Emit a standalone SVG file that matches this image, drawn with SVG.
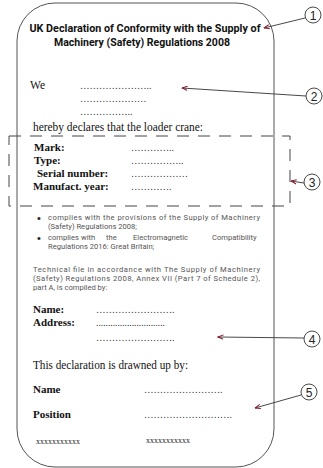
<svg xmlns="http://www.w3.org/2000/svg" width="323" height="468" viewBox="0 0 323 468">
<defs>
<style>
.frame{fill:none;stroke:#555;stroke-width:1}
.dash{fill:none;stroke:#444;stroke-width:1;stroke-dasharray:12 9}
.title{font-family:Roboto,"Liberation Sans",sans-serif;font-weight:bold;font-size:10.5px;fill:#111}
.serif{font-family:"Liberation Serif",serif;font-size:11.5px;fill:#111}
.bserif{font-family:"Liberation Serif",serif;font-weight:bold;font-size:11px;fill:#111}
.dots{font-family:"Liberation Serif",serif;font-size:9.5px;fill:#222}
.small{font-family:Roboto,"Liberation Sans",sans-serif;font-size:7.6px;fill:#555}
.bul{font-family:"Liberation Sans",sans-serif;font-size:11px;fill:#222}
.xx{font-family:"Liberation Serif",serif;font-size:8px;fill:#222}
.lead{fill:none;stroke:#333;stroke-width:0.9}
.num{fill:#fff;stroke:#333;stroke-width:0.9}
.numt{font-family:"Liberation Sans",sans-serif;font-size:12px;fill:#222;text-anchor:middle}
</style>
<marker id="ah" viewBox="0 0 6 6" refX="5.5" refY="3" markerWidth="6" markerHeight="6" orient="auto-start-reverse" markerUnits="userSpaceOnUse">
<path d="M0,0.8 L5.5,3 L0,5.2" fill="none" stroke="#8b1a2a" stroke-width="1"/>
</marker>
</defs>
<rect width="323" height="468" fill="#fff"/>
<g id="document">
<rect class="frame" x="17" y="3" width="257" height="464" rx="38" ry="38"/>
<text class="title" x="145" y="32" text-anchor="middle" textLength="231" lengthAdjust="spacingAndGlyphs">UK Declaration of Conformity with the Supply of</text>
<text class="title" x="142" y="46" text-anchor="middle" textLength="176" lengthAdjust="spacingAndGlyphs">Machinery (Safety) Regulations 2008</text>
<text class="serif" x="30" y="89">We</text>
<text class="dots" x="80" y="89">…………………..</text>
<text class="dots" x="80" y="102">…………………</text>
<text class="dots" x="80" y="115">……………..</text>
<text class="serif" x="33" y="131" textLength="170" lengthAdjust="spacingAndGlyphs">hereby declares that the loader crane:</text>
</g>
<g id="product-box">
<rect class="dash" x="9" y="136" width="281" height="70"/>
<text class="bserif" x="34" y="151">Mark:</text>
<text class="bserif" x="34" y="164">Type:</text>
<text class="bserif" x="37" y="177">Serial number:</text>
<text class="bserif" x="33" y="190">Manufact. year:</text>
<text class="dots" x="131" y="151">…………..</text>
<text class="dots" x="131" y="164">……………..</text>
<text class="dots" x="131" y="177">………………</text>
<text class="dots" x="131" y="190">………….</text>
</g>
<g id="compliance">
<text class="bul" x="37" y="222">•</text>
<text class="small" x="48" y="220" textLength="212" lengthAdjust="spacing">complies with the provisions of the Supply of Machinery</text>
<text class="small" x="48" y="229">(Safety) Regulations 2008;</text>
<text class="bul" x="37" y="242">•</text>
<text class="small" y="240"><tspan x="48">complies</tspan><tspan x="81">with</tspan><tspan x="106">the</tspan><tspan x="133">Electromagnetic</tspan><tspan x="212">Compatibility</tspan></text>
<text class="small" x="48" y="249">Regulations 2016: Great Britain;</text>
<text class="small" x="33" y="272" textLength="227" lengthAdjust="spacing">Technical file in accordance with The Supply of Machinery</text>
<text class="small" x="33" y="281" textLength="227" lengthAdjust="spacing">(Safety) Regulations 2008, Annex VII (Part 7 of Schedule 2),</text>
<text class="small" x="33" y="290">part A, is compiled by:</text>
</g>
<g id="compiler">
<text class="bserif" x="33" y="313">Name:</text>
<text class="bserif" x="33" y="326">Address:</text>
<text class="dots" x="96" y="313">…………………….</text>
<text class="dots" x="96" y="326">.............................</text>
<text class="dots" x="96" y="341">…………………….</text>
<text class="serif" x="33" y="369" textLength="155" lengthAdjust="spacingAndGlyphs">This declaration is drawned up by:</text>
<text class="bserif" x="33" y="393">Name</text>
<text class="bserif" x="33" y="418">Position</text>
<text class="dots" x="144" y="393">…………………….</text>
<text class="dots" x="144" y="418">……………………….</text>
<text class="xx" x="36" y="444">xxxxxxxxxxx</text>
<text class="xx" x="146" y="443">xxxxxxxxxxx</text>
</g>
<g id="connectors">
<line class="lead" x1="305" y1="18" x2="264" y2="28" marker-end="url(#ah)"/>
<line class="lead" x1="306" y1="96" x2="182" y2="88" marker-end="url(#ah)"/>
<line class="lead" x1="304" y1="183" x2="291" y2="181" marker-end="url(#ah)"/>
<line class="lead" x1="304" y1="338" x2="218" y2="337" marker-end="url(#ah)"/>
<line class="lead" x1="301" y1="395" x2="255" y2="408" marker-end="url(#ah)"/>
</g>
<g id="callout-1"><circle class="num" cx="313" cy="15" r="8"/><text class="numt" x="313" y="19.5">1</text></g>
<g id="callout-2"><circle class="num" cx="314" cy="96" r="8"/><text class="numt" x="314" y="100.5">2</text></g>
<g id="callout-3"><circle class="num" cx="312" cy="182" r="8"/><text class="numt" x="312" y="186.5">3</text></g>
<g id="callout-4"><circle class="num" cx="312" cy="339" r="8"/><text class="numt" x="312" y="343.5">4</text></g>
<g id="callout-5"><circle class="num" cx="309" cy="392" r="8"/><text class="numt" x="309" y="396.5">5</text></g>
</svg>
